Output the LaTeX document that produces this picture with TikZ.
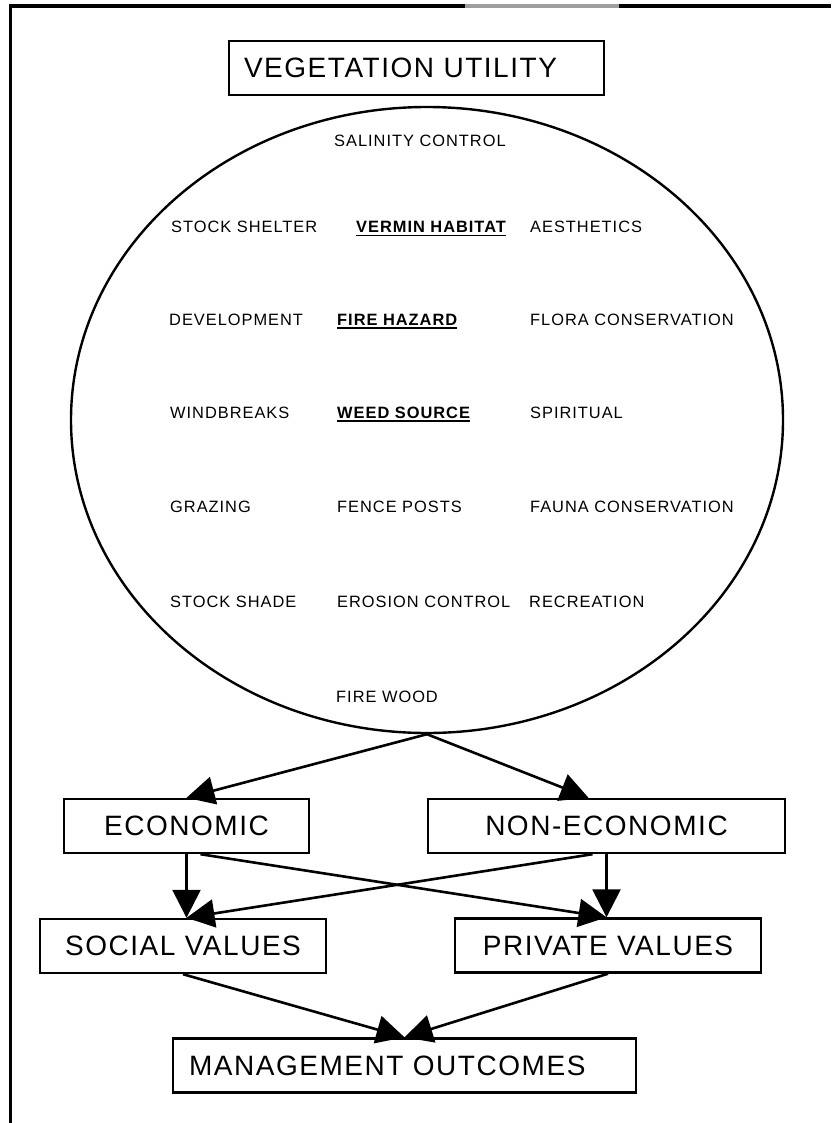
\documentclass[tikz,border=0pt]{standalone}
\usepackage{fontspec}
\setmainfont{Liberation Sans}
\newfontfamily\boxfont[LetterSpace=5.5]{Liberation Sans}
\newfontfamily\itemfont[LetterSpace=6]{Liberation Sans}
\usetikzlibrary{arrows.meta,shapes.geometric}
\newcommand{\ulword}[1]{\setbox0=\hbox{\bfseries #1}\rlap{\rule[-3.5pt]{\wd0}{1.5pt}}\box0}
\begin{document}
\begin{tikzpicture}[x=1pt, y=-1pt,
  box/.style={draw, line width=2.4pt, inner sep=0pt, minimum height=54pt, font=\boxfont\fontsize{28}{32}\selectfont},
  item/.style={anchor=base west, inner sep=0pt, font=\itemfont\fontsize{16.4}{19}\selectfont},
  flow/.style={line width=2.6pt, -{Triangle[length=28pt,width=28pt]}}]
\useasboundingbox (0,0) rectangle (831,1123);
\draw[line width=3.8pt] (10.5,1123) -- (10.5,6) -- (831,6);
\draw[line width=3.8pt, gray!75] (465,6) -- (619,6);
\node[box, text width=345pt, align=left, inner xsep=15pt, minimum width=375pt] (title) at (416.5,68) {VEGETATION UTILITY};
\node[draw, ellipse, line width=2.4pt, minimum width=712pt, minimum height=626pt, inner sep=0pt] (util) at (427,420) {};
\node[item] (salinity) at (334,147) {SALINITY CONTROL};
\node[item] (shelter) at (171,233) {STOCK SHELTER};
\node[item] (vermin) at (356,233) {\ulword{VERMIN HABITAT}};
\node[item] (aesthetics) at (530,233) {AESTHETICS};
\node[item] (development) at (169,325) {DEVELOPMENT};
\node[item] (fire) at (337,325) {\ulword{FIRE HAZARD}};
\node[item] (flora) at (530,325) {FLORA CONSERVATION};
\node[item] (windbreaks) at (170,418) {WINDBREAKS};
\node[item] (weed) at (337,418) {\ulword{WEED SOURCE}};
\node[item] (spiritual) at (530,418) {SPIRITUAL};
\node[item] (grazing) at (170,512) {GRAZING};
\node[item] (fence) at (337,512) {FENCE POSTS};
\node[item] (fauna) at (530,512) {FAUNA CONSERVATION};
\node[item] (shade) at (170,607) {STOCK SHADE};
\node[item] (erosion) at (337,607) {EROSION CONTROL};
\node[item] (recreation) at (529,607) {RECREATION};
\node[item] (firewood) at (336,702) {FIRE WOOD};
\node[box, minimum width=245pt] (eco) at (186.5,826) {ECONOMIC};
\node[box, minimum width=357pt] (noneco) at (606.5,826) {NON-ECONOMIC};
\node[box, minimum width=286pt] (social) at (183,946) {SOCIAL VALUES};
\node[box, minimum width=306pt] (private) at (608,945.5) {PRIVATE VALUES};
\node[box, text width=431pt, align=left, inner xsep=16pt, minimum width=463pt] (mgmt) at (404.5,1065.5) {MANAGEMENT OUTCOMES};
\draw[flow] (util.south) -- (eco.north);
\draw[flow] (util.south) -- ([xshift=-18pt]noneco.north);
\draw[flow] (eco.south) -- (eco.south |- social.north);
\draw[flow] ([xshift=14pt]eco.south) -- (noneco.south |- private.north);
\draw[flow] (noneco.south) -- (noneco.south |- private.north);
\draw[flow] ([xshift=-14pt]noneco.south) -- (eco.south |- social.north);
\draw[flow] (social.south) -- (mgmt.north);
\draw[flow] (private.south) -- (mgmt.north);
\end{tikzpicture}
\end{document}
